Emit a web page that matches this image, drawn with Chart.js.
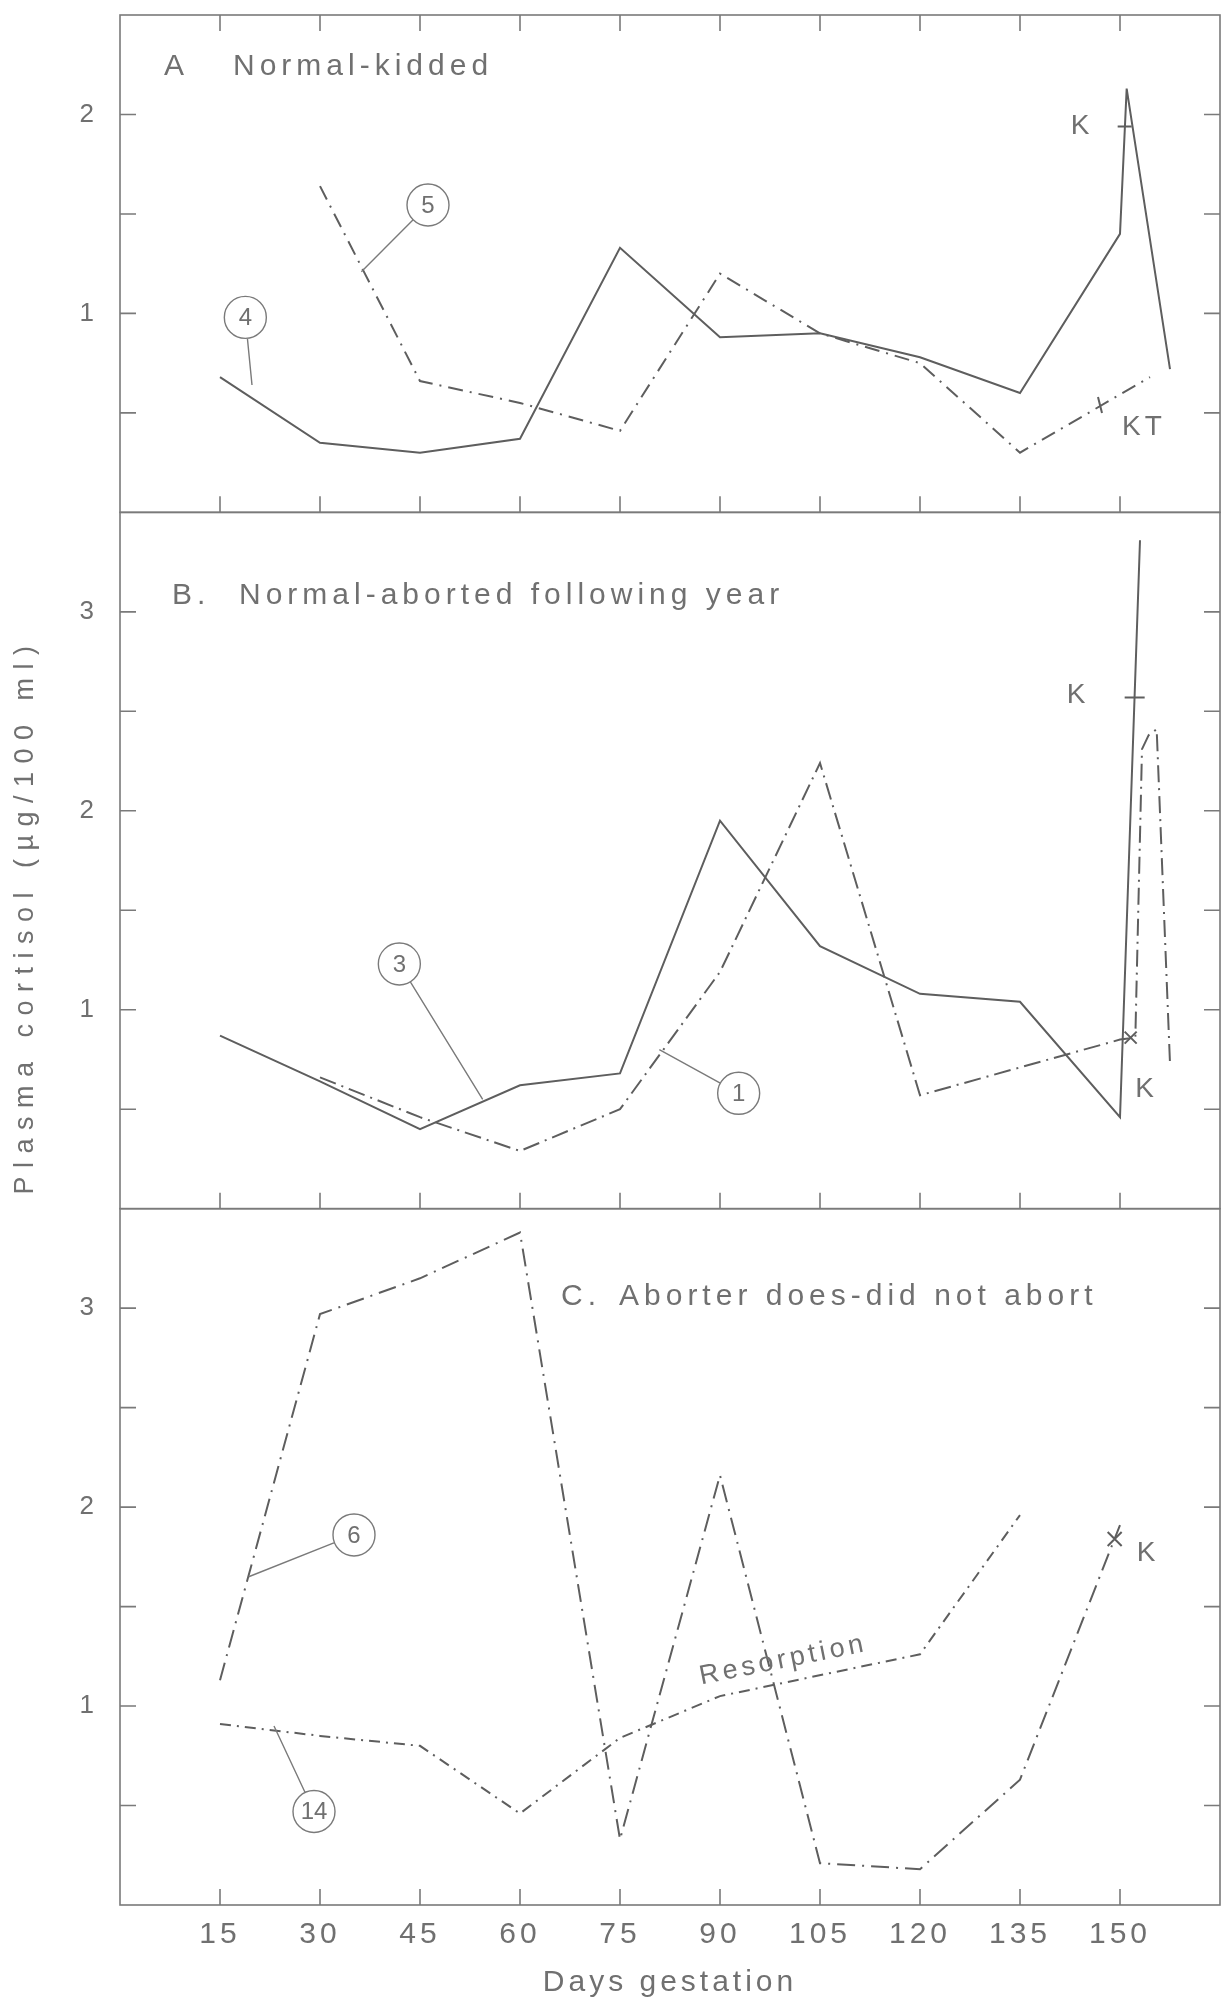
<!DOCTYPE html>
<html>
<head>
<meta charset="utf-8">
<title>Plasma cortisol during gestation</title>
<script src="https://cdn.jsdelivr.net/npm/chart.js@4.4.1/dist/chart.umd.min.js"></script>
<style>
  html, body { margin: 0; padding: 0; background: #fff; }
  #wrap { width: 1232px; height: 2002px; }
</style>
</head>
<body>
<div id="wrap"><canvas id="chart" width="1232" height="2002"></canvas></div>
<script>
// x axis: days of gestation
const xTicks = [15, 30, 45, 60, 75, 90, 105, 120, 135, 150];

// panels, top to bottom
const panelIds = ['yA', 'yB', 'yC'];
const panelMax = [2.5, 3.5, 3.5];
const panelLetters = ['A', 'B.', 'C.'];
const panelTitles = ['Normal-kidded', 'Normal-aborted following year', 'Aborter does-did not abort'];

// A: doe 4 (solid) and doe 5 (dash-dot)
const daysA4 = [15, 30, 45, 60, 75, 90, 105, 120, 135, 150, 151, 157.5];
const cortA4 = [0.68, 0.35, 0.30, 0.37, 1.33, 0.88, 0.90, 0.78, 0.60, 1.40, 2.13, 0.72];
const daysA5 = [30, 45, 60, 75, 90, 105, 120, 135, 154.5];
const cortA5 = [1.64, 0.66, 0.55, 0.41, 1.20, 0.90, 0.75, 0.30, 0.68];

// B: doe 3 (solid) and doe 1 (dash-dot)
const daysB3 = [15, 30, 45, 60, 75, 90, 105, 120, 135, 150, 153];
const cortB3 = [0.87, 0.64, 0.40, 0.62, 0.68, 1.95, 1.32, 1.08, 1.04, 0.46, 3.36];
const daysB1 = [30, 45, 60, 75, 90, 105, 120, 150, 152.3, 153.3, 154.3, 155.5, 157.5];
const cortB1 = [0.66, 0.46, 0.29, 0.50, 1.19, 2.24, 0.57, 0.85, 0.86, 2.31, 2.38, 2.41, 0.73];

// C: doe 6 and doe 14
const daysC6 = [15, 30, 45, 60, 75, 90, 105, 120, 135, 150];
const cortC6 = [1.13, 2.97, 3.15, 3.38, 0.33, 2.16, 0.21, 0.18, 0.63, 1.91];
const daysC14 = [15, 30, 45, 60, 75, 90, 120, 135];
const cortC14 = [0.91, 0.85, 0.80, 0.46, 0.84, 1.05, 1.26, 1.96];

const ink = '#707070';
const lineInk = '#5e5e5e';
const family = "'Liberation Sans', Arial, sans-serif";
const tickLen = 16;

const series = [
  { axis: 'yA', days: daysA4, values: cortA4, dash: [] },
  { axis: 'yA', days: daysA5, values: cortA5, dash: [15, 7, 2, 7] },
  { axis: 'yB', days: daysB3, values: cortB3, dash: [] },
  { axis: 'yB', days: daysB1, values: cortB1, dash: [17, 6, 2, 6] },
  { axis: 'yC', days: daysC6, values: cortC6, dash: [18, 7, 2, 7] },
  { axis: 'yC', days: daysC14, values: cortC14, dash: [11, 6, 2, 6] }
];

// numbered circles with their leader lines (data coordinates)
const callouts = [
  { axis: 'yA', text: '4', at: [18.8, 0.98], to: [19.8, 0.64] },
  { axis: 'yA', text: '5', at: [46.2, 1.545], to: [36.2, 1.21] },
  { axis: 'yB', text: '3', at: [41.9, 1.23], to: [54.4, 0.55] },
  { axis: 'yB', text: '1', at: [92.8, 0.58], to: [80.9, 0.80] },
  { axis: 'yC', text: '6', at: [35.1, 1.86], to: [19.3, 1.65] },
  { axis: 'yC', text: '14', at: [29.1, 0.47], to: [23.1, 0.90] }
];

// kidding notes
const notes = [
  { axis: 'yA', text: 'K', at: [144.3, 1.94] },
  { axis: 'yA', text: 'KT', at: [153.6, 0.43] },
  { axis: 'yB', text: 'K', at: [143.7, 2.58] },
  { axis: 'yB', text: 'K', at: [154.0, 0.60] },
  { axis: 'yC', text: 'K', at: [154.2, 1.77] }
];
const marks = [
  { axis: 'yA', kind: 'h', at: [150.7, 1.94], size: 7 },
  { axis: 'yA', kind: 'v', at: [147, 0.54], size: 8 },
  { axis: 'yB', kind: 'h', at: [152.2, 2.57], size: 10 },
  { axis: 'yB', kind: 'x', at: [151.6, 0.86], size: 6 },
  { axis: 'yC', kind: 'x', at: [149.2, 1.84], size: 7 }
];

// offsets of the panel headings from each panel's top-left corner
const titlePlace = [[44, 113, 52], [52, 119, 83], [441, 499, 88]];

const decor = {
  id: 'decor',
  beforeUpdate(chart) { chart.ctx.letterSpacing = '4px'; },
  beforeDraw(chart) { chart.ctx.letterSpacing = '4px'; },
  afterDatasetsDraw(chart) {
    const { ctx, chartArea: area, scales } = chart;
    const sx = scales.x;
    const px = d => sx.getPixelForValue(d);
    ctx.save();
    ctx.strokeStyle = '#7a7a7a';
    ctx.fillStyle = ink;
    ctx.lineWidth = 1.6;
    ctx.setLineDash([]);

    panelIds.forEach((id, i) => {
      const sy = scales[id];
      ctx.strokeRect(area.left, sy.top, area.right - area.left, sy.bottom - sy.top);
      ctx.beginPath();
      sy.ticks.forEach(t => {
        if (t.value <= sy.min || t.value >= sy.max) return;
        const y = sy.getPixelForValue(t.value);
        ctx.moveTo(area.left, y); ctx.lineTo(area.left + tickLen, y);
        ctx.moveTo(area.right, y); ctx.lineTo(area.right - tickLen, y);
      });
      xTicks.forEach(d => {
        ctx.moveTo(px(d), sy.bottom); ctx.lineTo(px(d), sy.bottom - tickLen);
        if (i === 0) { ctx.moveTo(px(d), sy.top); ctx.lineTo(px(d), sy.top + tickLen); }
      });
      ctx.stroke();

      const p = titlePlace[i];
      ctx.font = `30px ${family}`;
      ctx.letterSpacing = '5px';
      ctx.textAlign = 'left';
      ctx.textBaseline = 'middle';
      ctx.fillText(panelLetters[i], area.left + p[0], sy.top + p[2]);
      ctx.fillText(panelTitles[i], area.left + p[1], sy.top + p[2]);
    });

    // circled doe numbers
    ctx.lineWidth = 1.4;
    ctx.letterSpacing = '0px';
    ctx.textAlign = 'center';
    ctx.font = `24px ${family}`;
    const r = 21;
    callouts.forEach(c => {
      const sy = scales[c.axis];
      const cx = px(c.at[0]), cy = sy.getPixelForValue(c.at[1]);
      const ex = px(c.to[0]), ey = sy.getPixelForValue(c.to[1]);
      const a = Math.atan2(ey - cy, ex - cx);
      ctx.beginPath();
      ctx.arc(cx, cy, r, 0, Math.PI * 2);
      ctx.moveTo(cx + r * Math.cos(a), cy + r * Math.sin(a));
      ctx.lineTo(ex, ey);
      ctx.stroke();
      ctx.fillText(c.text, cx, cy + 1);
    });

    ctx.font = `28px ${family}`;
    ctx.letterSpacing = '4px';
    notes.forEach(n => {
      const sy = scales[n.axis];
      ctx.fillText(n.text, px(n.at[0]), sy.getPixelForValue(n.at[1]));
    });

    ctx.strokeStyle = lineInk;
    ctx.lineWidth = 2;
    ctx.beginPath();
    marks.forEach(m => {
      const sy = scales[m.axis];
      const x = px(m.at[0]), y = sy.getPixelForValue(m.at[1]), s = m.size;
      if (m.kind === 'h') { ctx.moveTo(x - s, y); ctx.lineTo(x + s, y); }
      else if (m.kind === 'v') { ctx.moveTo(x - 2, y - s); ctx.lineTo(x + 2, y + s); }
      else { ctx.moveTo(x - s, y - s); ctx.lineTo(x + s, y + s); ctx.moveTo(x - s, y + s); ctx.lineTo(x + s, y - s); }
    });
    ctx.stroke();

    // "Resorption" along doe 14's line
    const sc = scales.yC;
    ctx.save();
    ctx.translate(px(99.5), sc.getPixelForValue(1.23));
    ctx.rotate(-0.2);
    ctx.font = `27px ${family}`;
    ctx.fillText('Resorption', 0, 0);
    ctx.restore();

    // y axis title, shared by the three panels
    ctx.save();
    ctx.translate(26, 916);
    ctx.rotate(-Math.PI / 2);
    ctx.font = `27px ${family}`;
    ctx.letterSpacing = '8.5px';
    ctx.fillText('Plasma cortisol (\u00b5g/100 ml)', 0, 0);
    ctx.restore();

    ctx.restore();
  }
};

const yScale = (i) => ({
  type: 'linear',
  position: 'left',
  stack: 'panels',
  stackWeight: panelMax[i],
  weight: 3 - i,
  offset: false,
  min: 0,
  max: panelMax[i],
  grid: { display: false, drawTicks: false },
  border: { display: false },
  ticks: {
    stepSize: 0.5,
    padding: 22,
    color: ink,
    font: { family, size: 26 },
    callback: v => (Number.isInteger(v) && v > 0 ? String(v) : '')
  },
  afterFit: s => {
    s.width = 120;
    s.paddingTop = 0;
    s.paddingBottom = 0;
  }
});

new Chart(document.getElementById('chart'), {
  type: 'line',
  data: {
    datasets: series.map(s => ({
      data: s.days.map((d, i) => ({ x: d, y: s.values[i] })),
      yAxisID: s.axis,
      borderColor: lineInk,
      borderWidth: 2,
      borderDash: s.dash,
      pointRadius: 0,
      fill: false,
      tension: 0
    }))
  },
  options: {
    responsive: false,
    devicePixelRatio: 1,
    animation: false,
    layout: { padding: { top: 15, right: 12, left: 0, bottom: 0 } },
    plugins: { legend: { display: false }, tooltip: { enabled: false } },
    scales: {
      x: {
        type: 'linear',
        min: 0,
        max: 165,
        afterBuildTicks: s => { s.ticks = xTicks.map(v => ({ value: v })); },
        grid: { display: false, drawTicks: false },
        border: { display: false },
        ticks: { padding: 12, color: ink, autoSkip: false, maxRotation: 0, font: { family, size: 30 } },
        title: {
          display: true,
          text: 'Days gestation',
          color: ink,
          font: { family, size: 30 },
          padding: { top: 4, bottom: 1 }
        },
        afterFit: s => {
          s.height = 97;
          s.paddingLeft = 0;
          s.paddingRight = 0;
        }
      },
      yA: yScale(0),
      yB: yScale(1),
      yC: yScale(2)
    }
  },
  plugins: [decor]
});
</script>
</body>
</html>
